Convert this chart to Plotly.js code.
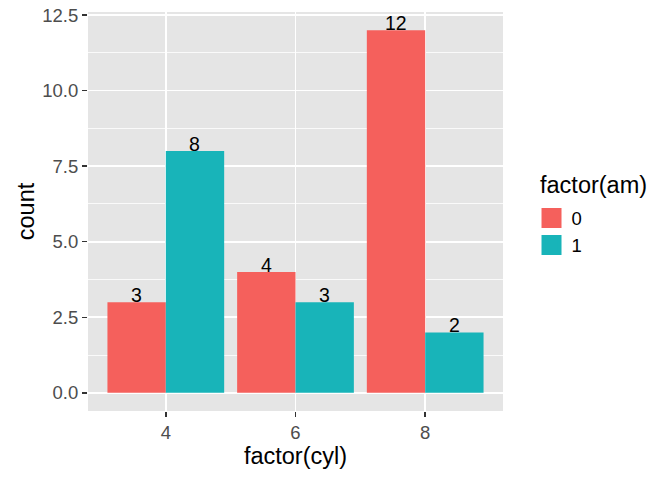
<!DOCTYPE html>
<html>
<head>
<meta charset="utf-8">
<script src="https://cdn.plot.ly/plotly-3.0.1.min.js"></script>
<style>html,body{margin:0;padding:0;background:#fff;}#chart{width:672px;height:480px;}</style>
</head>
<body>
<div id="chart"></div>
<script>
var cylCategories = ['4', '6', '8'];
var amLevels = ['0', '1'];
var countsAm0 = [3, 4, 12];
var countsAm1 = [8, 3, 2];
var yTickVals = [0, 2.5, 5, 7.5, 10, 12.5];
var yTickText = ['0.0', '2.5', '5.0', '7.5', '10.0', '12.5'];
var barColors = ['#F5605C', '#18B4B9'];

var FONT = 'Liberation Sans, Arial, Helvetica, sans-serif';
var seriesValues = [countsAm0, countsAm1];
var dodgeWidth = 0.9;

var traces = [];
var annotations = [];
amLevels.forEach(function (lvl, i) {
  traces.push({
    type: 'bar',
    x: cylCategories,
    y: seriesValues[i],
    name: lvl,
    marker: {color: barColors[i], line: {width: 0}},
    showlegend: false,
    hoverinfo: 'x+y'
  });
  // count labels, centred on each dodged bar
  var offset = (i - (amLevels.length - 1) / 2) * dodgeWidth / amLevels.length;
  seriesValues[i].forEach(function (v, j) {
    annotations.push({
      xref: 'x', yref: 'y',
      x: j + offset, y: v,
      text: String(v),
      showarrow: false,
      xanchor: 'center', yanchor: 'bottom',
      yshift: -6,
      font: {family: FONT, size: 19.5, color: '#000000'}
    });
  });
});
// legend proxies (square keys like ggplot)
amLevels.forEach(function (lvl, i) {
  traces.push({
    type: 'scatter',
    mode: 'markers',
    x: [null],
    y: [null],
    name: lvl,
    marker: {symbol: 'square', size: 16, color: barColors[i], line: {color: barColors[i], width: 4}},
    showlegend: true
  });
});
// legend title
annotations.push({
  xref: 'paper', yref: 'paper',
  x: 1.0843, y: 0.566,
  xanchor: 'left', yanchor: 'middle',
  text: 'factor(am)',
  showarrow: false,
  font: {family: FONT, size: 23.5, color: '#000000'}
});

var layout = {
  width: 672,
  height: 480,
  margin: {l: 88, r: 169, t: 12, b: 69},
  paper_bgcolor: '#FFFFFF',
  plot_bgcolor: '#E5E5E5',
  barmode: 'group',
  bargap: 0.1,
  bargroupgap: 0,
  font: {family: FONT, color: '#000000'},
  annotations: annotations,
  xaxis: {
    type: 'category',
    categoryorder: 'array',
    categoryarray: cylCategories,
    range: [-0.6, 2.6],
    showgrid: true,
    gridcolor: '#FFFFFF',
    gridwidth: 1.6,
    zeroline: false,
    showline: false,
    ticks: 'outside',
    ticklen: 5,
    tickwidth: 1.4,
    tickcolor: '#333333',
    tickfont: {family: FONT, size: 18.5, color: '#4D4D4D'},
    title: {text: 'factor(cyl)', font: {family: FONT, size: 23.5, color: '#000000'}, standoff: 3},
    fixedrange: true
  },
  yaxis: {
    range: [-0.6, 12.6],
    tickmode: 'array',
    tickvals: yTickVals,
    ticktext: yTickText,
    showgrid: true,
    gridcolor: '#FFFFFF',
    gridwidth: 1.6,
    minor: {dtick: 1.25, tick0: 0, showgrid: true, gridcolor: '#FFFFFF', gridwidth: 0.8, ticks: ''},
    zeroline: false,
    showline: false,
    ticks: 'outside',
    ticklen: 5,
    tickwidth: 1.4,
    tickcolor: '#333333',
    tickfont: {family: FONT, size: 18.5, color: '#4D4D4D'},
    title: {text: 'count', font: {family: FONT, size: 23.5, color: '#000000'}, standoff: 1},
    fixedrange: true
  },
  legend: {
    x: 1.0687,
    xanchor: 'left',
    y: 0.530,
    yanchor: 'top',
    bgcolor: 'rgba(0,0,0,0)',
    font: {family: FONT, size: 18.5, color: '#000000'},
    itemsizing: 'trace',
    tracegroupgap: 0
  },
  showlegend: true
};

Plotly.newPlot('chart', traces, layout, {displayModeBar: false, staticPlot: true});
</script>
</body>
</html>
